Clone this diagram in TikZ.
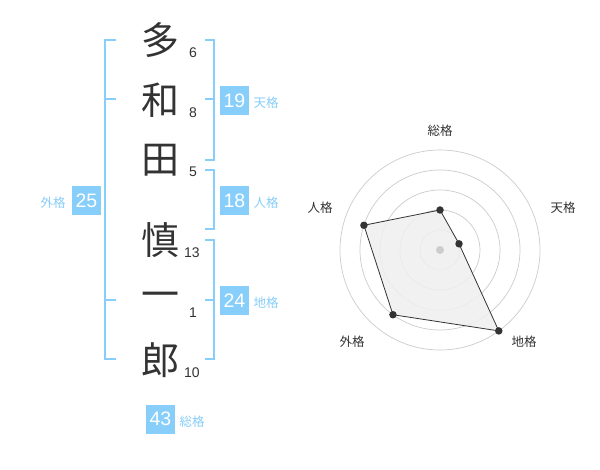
\documentclass[tikz,border=0pt]{standalone}
\usepackage{fontspec}
\setmainfont{Liberation Sans}
\newfontfamily\cjk{Noto Sans CJK JP}
\definecolor{sky}{HTML}{87CEFA}
\definecolor{ink}{HTML}{333333}
\definecolor{ringc}{HTML}{CCCCCC}
\definecolor{polyfill}{HTML}{EFEFEF}
\tikzset{
  kanji/.style={inner sep=0pt, text=ink, font=\cjk\fontsize{38}{38}\selectfont},
  stroke/.style={inner sep=0pt, text=ink, font=\fontsize{14}{14}\selectfont},
  scorebox/.style={fill=sky, text=white, inner sep=0pt, minimum width=29pt, minimum height=29pt, font=\fontsize{19.5}{19.5}\selectfont},
  scorelabel/.style={inner sep=0pt, text=sky, font=\cjk\fontsize{12.5}{12.5}\selectfont},
  bracket/.style={draw=sky, line width=2pt},
  ring/.style={draw=ringc, line width=0.7pt},
  axislabel/.style={inner sep=0pt, text=ink, font=\cjk\fontsize{12.5}{12.5}\selectfont},
  dot/.style={circle, fill=ink, inner sep=0pt, minimum size=7.5pt},
}
\begin{document}
\begin{tikzpicture}[x=1pt,y=-1pt]
\useasboundingbox (0,0) rectangle (600,470);
\fill[white] (0,0) rectangle (600,470);
% characters
\node[kanji] (c1) at (160,40) {多};
\node[kanji] (c2) at (160,100) {和};
\node[kanji] (c3) at (160,160) {田};
\node[kanji] (c4) at (160,240) {慎};
\node[kanji] (c5) at (160,300) {一};
\node[kanji] (c6) at (160,360) {郎};
% stroke counts
\node[stroke] (n1) at (193,53) {6};
\node[stroke] (n2) at (193,113) {8};
\node[stroke] (n3) at (193,172) {5};
\node[stroke] (n4) at (192,253) {13};
\node[stroke] (n5) at (193,313) {1};
\node[stroke] (n6) at (192,373) {10};
% brackets
\draw[bracket] (116,40) -- (105,40) -- (105,359) -- (116,359);
\draw[bracket] (105,99) -- (116,99);
\draw[bracket] (105,300) -- (116,300);
\draw[bracket] (205,40) -- (214,40) -- (214,160) -- (205,160);
\draw[bracket] (205,99) -- (214,99);
\draw[bracket] (205,170) -- (214,170) -- (214,229) -- (205,229);
\draw[bracket] (205,240) -- (214,240) -- (214,359) -- (205,359);
\draw[bracket] (205,300) -- (214,300);
% score boxes
\node[scorebox] (b1) at (234.5,100.5) {19};
\node[scorelabel] (l1) at (266,103) {天格};
\node[scorebox] (b2) at (234.5,200.5) {18};
\node[scorelabel] (l2) at (266,203) {人格};
\node[scorebox] (b3) at (234.5,300.5) {24};
\node[scorelabel] (l3) at (266,303) {地格};
\node[scorebox] (b4) at (86.5,200.5) {25};
\node[scorelabel] (l4) at (53,203) {外格};
\node[scorebox] (b5) at (160.5,419) {43};
\node[scorelabel] (l5) at (192,422) {総格};
% radar
\begin{scope}[shift={(440,250)}]
  \foreach \r in {20,40,60,80,100} \draw[ring] (0,0) circle (\r);
  \coordinate (p1) at (-90:40);
  \coordinate (p2) at (-18:20);
  \coordinate (p3) at (54:100);
  \coordinate (p4) at (126:80);
  \coordinate (p5) at (198:80);
  \filldraw[fill=polyfill, fill opacity=0.85, draw=ink, line width=0.8pt] (p1) -- (p2) -- (p3) -- (p4) -- (p5) -- cycle;
  \node[circle, fill=ringc, inner sep=0pt, minimum size=8pt] (ctr) at (0,0) {};
  \foreach \p in {p1,p2,p3,p4,p5} \node[dot] at (\p) {};
\end{scope}
\node[axislabel] (a1) at (440,131) {総格};
\node[axislabel] (a2) at (563,208) {天格};
\node[axislabel] (a3) at (524,342) {地格};
\node[axislabel] (a4) at (352,342) {外格};
\node[axislabel] (a5) at (320,208) {人格};
\end{tikzpicture}
\end{document}
